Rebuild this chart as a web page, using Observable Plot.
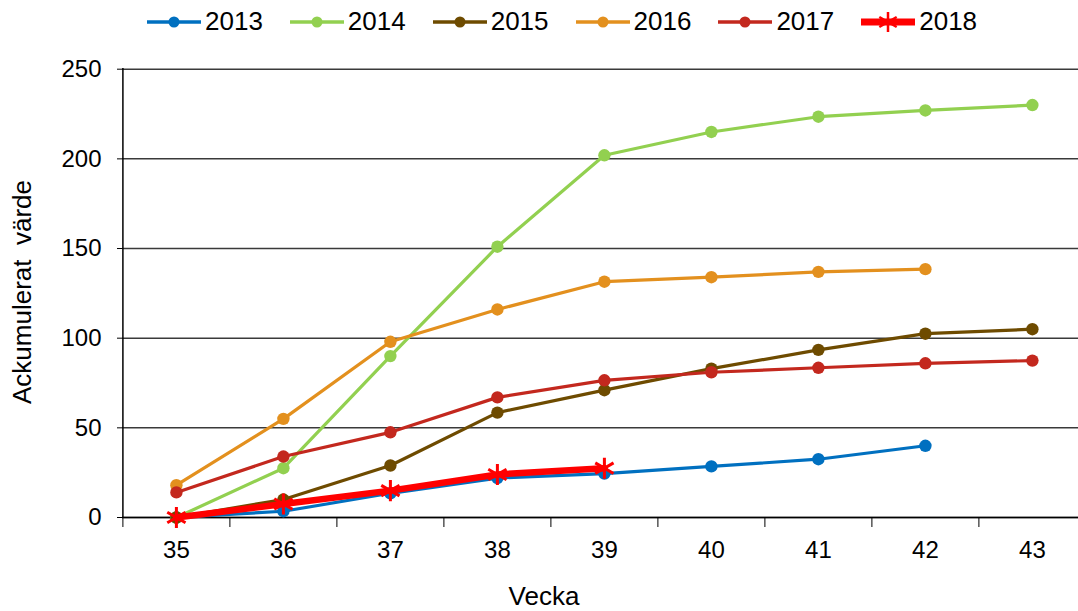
<!DOCTYPE html>
<html><head><meta charset="utf-8">
<script src="https://cdn.jsdelivr.net/npm/d3@7"></script>
<script src="https://cdn.jsdelivr.net/npm/@observablehq/plot@0.6"></script>
<style>
body{margin:0;background:#fff;font-family:"Liberation Sans",Arial,sans-serif;}
#wrap{position:relative;width:1078px;height:611px;overflow:hidden;background:#fff}
#legend{position:absolute;left:147px;top:6px;display:flex;align-items:center;font-size:26px;color:#000}
.item{display:flex;align-items:center;margin-right:27px}
.item svg{margin-right:4px}
.ytitle{position:absolute;left:22px;top:292px;transform:translate(-50%,-50%) rotate(-90deg);font-size:26px;white-space:pre}
.xtitle{position:absolute;left:544px;top:596px;transform:translate(-50%,-50%);font-size:26px;line-height:26px}
</style></head><body>
<div id="wrap"><div id="legend"></div><div class="ytitle">Ackumulerat  värde</div><div class="xtitle">Vecka</div></div>
<script>
const weeks = [35,36,37,38,39,40,41,42,43];
const years = ["2013","2014","2015","2016","2017","2018"];
const colors = ["#0070C0","#92D050","#6E4B00","#E3901E","#C3281E","#FF0000"];
const v2013 = [0,3.5,13.5,22,24.5,28.5,32.5,40];
const v2014 = [0,27.5,90,151,202,215,223.5,227,230];
const v2015 = [0,10,29,58.5,71,83,93.5,102.5,105];
const v2016 = [18,55,98,116,131.5,134,137,138.5];
const v2017 = [14,34,47.5,67,76.5,81,83.5,86,87.5];
const v2018 = [0,7.5,15,24,27.5];
const yTicks = [0,50,100,150,200,250];

const series = [v2013,v2014,v2015,v2016,v2017,v2018];
const rows = [];
series.forEach((vals,i)=>vals.forEach((v,j)=>rows.push({year:years[i],week:weeks[j],value:v})));
const bounds = weeks.map(w=>w-0.5).concat([weeks[weeks.length-1]+0.5]);

const marks = [
  Plot.gridY(yTicks,{stroke:"#3a3a3a",strokeOpacity:1,strokeWidth:1.5}),
  Plot.axisY(yTicks,{tickSize:5,tickPadding:16,fontSize:24,label:null}),
  Plot.axisX(weeks,{tickSize:0,tickPadding:23,fontSize:24,label:null,tickFormat:d=>String(d)}),
  Plot.axisX(bounds,{tickSize:10,label:null,tickFormat:()=>""}),
  Plot.ruleX([bounds[0]],{stroke:"#000",strokeWidth:1.5}),
  Plot.ruleY([0],{stroke:"#000",strokeWidth:1.5})
];
years.forEach((y,i)=>{
  const d = rows.filter(r=>r.year===y);
  if (y==="2018") {
    marks.push(Plot.line(d,{x:"week",y:"value",stroke:colors[i],strokeWidth:6.5}));
    marks.push(Plot.dot(d,{x:"week",y:"value",symbol:"asterisk",r:10,stroke:colors[i],strokeWidth:3}));
  } else {
    marks.push(Plot.line(d,{x:"week",y:"value",stroke:colors[i],strokeWidth:3.2}));
    marks.push(Plot.dot(d,{x:"week",y:"value",r:6.2,fill:colors[i]}));
  }
});

const chart = Plot.plot({
  width:1078,height:611,
  marginTop:68,marginBottom:94,marginLeft:122,marginRight:0,
  style:{fontFamily:"Liberation Sans, Arial, sans-serif",color:"#000",background:"#fff",overflow:"hidden"},
  x:{type:"linear",domain:[34.5,43.5],range:[122.4,1085.4],axis:null},
  y:{domain:[0,250],range:[517,68.7],axis:null},
  marks
});
const wrap = document.getElementById("wrap");
wrap.insertBefore(chart, wrap.firstChild);
chart.style.position="absolute";chart.style.left="0";chart.style.top="0";

const legend = document.getElementById("legend");
years.forEach((y,i)=>{
  const it = document.createElement("div"); it.className="item";
  const c = colors[i];
  let sym;
  if (y==="2018") {
    sym = `<line x1="0" y1="14" x2="54" y2="14" stroke="${c}" stroke-width="7"/>`+
      `<g stroke="${c}" stroke-width="2.5"><line x1="27" y1="4" x2="27" y2="24"/><line x1="18.3" y1="9" x2="35.7" y2="19"/><line x1="18.3" y1="19" x2="35.7" y2="9"/></g>`;
  } else {
    sym = `<line x1="0" y1="14" x2="54" y2="14" stroke="${c}" stroke-width="3.5"/><circle cx="27" cy="14" r="5.5" fill="${c}"/>`;
  }
  it.innerHTML = `<svg width="54" height="28">${sym}</svg><span>${y}</span>`;
  legend.appendChild(it);
});
</script></body></html>
